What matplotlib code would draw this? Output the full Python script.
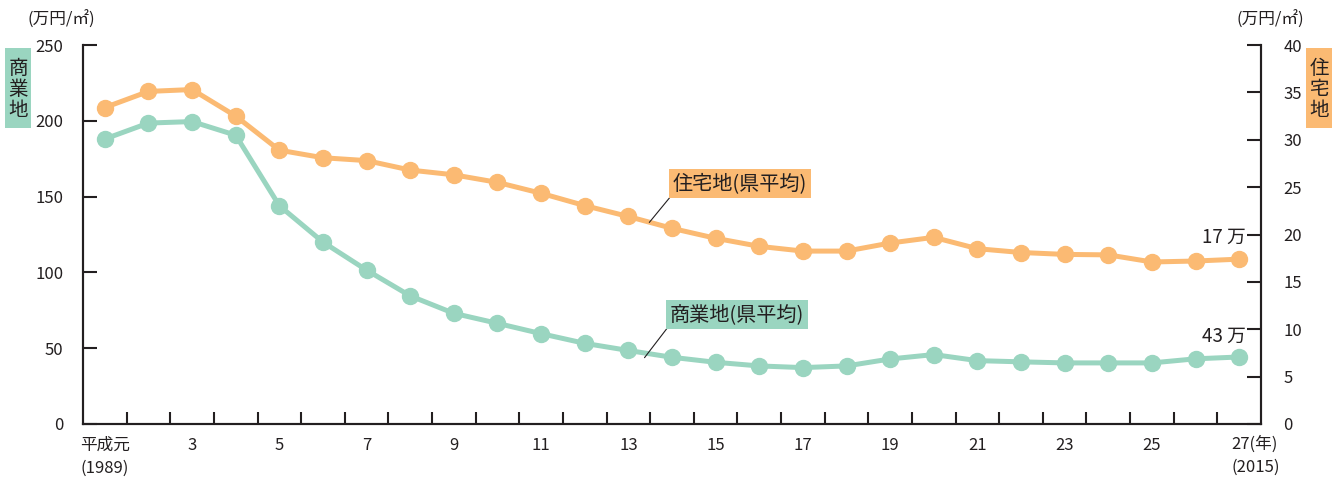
import matplotlib.pyplot as plt
from matplotlib.patches import Rectangle

plt.rcParams['font.family'] = ['Noto Sans CJK JP', 'DejaVu Sans']

# 平成 years 1..27 (1989-2015)
years = list(range(1, 28))
commercial = [188, 198.5, 199.5, 190.5, 144, 120, 101.5, 84.5, 73, 66.4, 59.6, 53.2, 48.5,
              44, 40.7, 38.3, 37.2, 38.3, 42.9, 45.8, 41.8, 41, 40.3, 40.3, 40.3, 43, 44.2]
residential = [33.4, 35.1, 35.3, 32.5, 28.9, 28.1, 27.8, 26.8, 26.3, 25.5, 24.35, 23.05, 21.9,
               20.65, 19.6, 18.75, 18.25, 18.25, 19.1, 19.7, 18.5, 18.1, 17.9, 17.85, 17.1, 17.2, 17.4]
left_ticks = [0, 50, 100, 150, 200, 250]
right_ticks = [0, 5, 10, 15, 20, 25, 30, 35, 40]
x_label_pos = [1, 3, 5, 7, 9, 11, 13, 15, 17, 19, 21, 23, 25]
x_labels = ['平成元\n(1989)', '3', '5', '7', '9', '11', '13', '15', '17', '19', '21', '23', '25']

orange = '#FBBA73'
teal = '#9AD5C0'
dark = '#231F20'

fig = plt.figure(figsize=(13.44, 4.79), dpi=100)
ax = fig.add_axes([83 / 1344, 55 / 479, (1261 - 83) / 1344, (424 - 45) / 479])
ax2 = ax.twinx()

ax.plot(years, commercial, color=teal, lw=3.6, marker='o', ms=11.5, zorder=3)
ax2.plot(years, residential, color=orange, lw=3.6, marker='o', ms=11.5, zorder=3)

ax.set_xlim(0.5, 27.5)
ax.set_ylim(0, 250)
ax2.set_ylim(0, 40)

for a in (ax, ax2):
    a.spines['top'].set_visible(False)
    for s in a.spines.values():
        s.set_linewidth(1.5)
        s.set_color(dark)

ax.set_xticks([i + 0.5 for i in range(1, 27)])
ax.set_xticklabels([])
ax.set_xticks(x_label_pos, minor=True)
ax.set_xticklabels(x_labels, minor=True, fontsize=12, color=dark)
ax.tick_params(axis='x', which='major', direction='in', length=9, width=1.5, color=dark)
ax.tick_params(axis='x', which='minor', length=0, pad=9)
for lbl in ax.get_xticklabels(minor=True):
    lbl.set_linespacing(1.5)
ax.text(26.82, -0.03, '27(年)\n(2015)', transform=ax.get_xaxis_transform(),
        ha='left', va='top', fontsize=12, color=dark, linespacing=1.5)

ax.set_yticks(left_ticks)
ax.tick_params(axis='y', direction='in', length=10, width=1.5, color=dark,
               labelsize=12, labelcolor=dark, pad=14)
ax2.set_yticks(right_ticks)
ax2.tick_params(axis='y', direction='in', length=10, width=1.5, color=dark,
                labelsize=12, labelcolor=dark, pad=16)

# unit labels
fig.text(27 / 1344, 1 - 20 / 479, '(万円/㎡)', fontsize=12, color=dark, va='center', ha='left')
fig.text(1236 / 1344, 1 - 20 / 479, '(万円/㎡)', fontsize=12, color=dark, va='center', ha='left')

# vertical axis tags
fig.patches.append(Rectangle((5 / 1344, 1 - 128 / 479), 26 / 1344, 80 / 479,
                             transform=fig.transFigure, facecolor=teal, edgecolor='none'))
fig.text(18 / 1344, 1 - 89 / 479, '商\n業\n地', fontsize=14, color=dark, ha='center', va='center',
         linespacing=1.0)
fig.patches.append(Rectangle((1306 / 1344, 1 - 128 / 479), 26 / 1344, 80 / 479,
                             transform=fig.transFigure, facecolor=orange, edgecolor='none'))
fig.text(1319 / 1344, 1 - 89 / 479, '住\n宅\n地', fontsize=14, color=dark, ha='center', va='center',
         linespacing=1.0)

# series labels with leader lines
ax2.annotate('住宅地(県平均)', xy=(13.48, (residential[12] + residential[13]) / 2), xytext=(14.02, 24.3),
             fontsize=14.5, color=dark, ha='left', va='bottom',
             bbox=dict(boxstyle='square,pad=0.2', facecolor=orange, edgecolor='none'),
             arrowprops=dict(arrowstyle='-', color=dark, lw=0.8, relpos=(0, 0), shrinkA=0, shrinkB=0),
             zorder=5)
ax.annotate('商業地(県平均)', xy=(13.37, (commercial[12] + commercial[13]) / 2 - 2.5), xytext=(13.95, 65.5),
            fontsize=14.5, color=dark, ha='left', va='bottom',
            bbox=dict(boxstyle='square,pad=0.2', facecolor=teal, edgecolor='none'),
            arrowprops=dict(arrowstyle='-', color=dark, lw=0.8, relpos=(0, 0), shrinkA=0, shrinkB=0),
            zorder=5)

# end values
ax2.text(27.15, residential[-1] + 2.3, '17 万', fontsize=13.5, color=dark, ha='right', va='center')
ax.text(27.15, commercial[-1] + 13.5, '43 万', fontsize=13.5, color=dark, ha='right', va='center')

fig.savefig('out.png', dpi=100)
